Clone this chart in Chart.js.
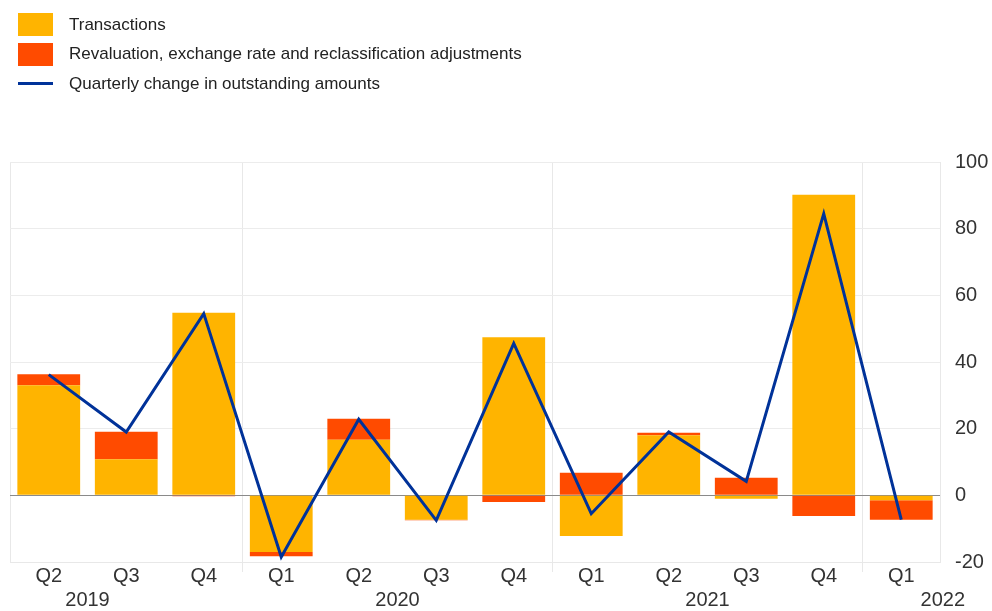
<!DOCTYPE html>
<html lang="en">
<head>
    <meta charset="UTF-8">
    <title>Transactions and revaluations</title>
    <script src="https://cdn.jsdelivr.net/npm/chart.js"></script>
    <style>
        body { margin: 0; background: #fff; font-family: "Liberation Sans", Arial, Helvetica, sans-serif; }
        .wrap { position: relative; width: 992px; height: 611px; }
        .legend { position: absolute; left: 18px; top: 10px; color: #222; font-size: 17px; }
        .legend .row { display: flex; align-items: center; height: 29.5px; }
        .legend .box { width: 35px; height: 23px; margin-right: 16px; }
        .legend .line { width: 35px; height: 3px; margin-right: 16px; }
        canvas { position: absolute; left: 0; top: 0; }
    </style>
</head>
<body>
    <div class="wrap">
        <canvas id="chart" width="992" height="611"></canvas>
        <div class="legend">
            <div class="row"><span class="box" style="background:#FFB400"></span>Transactions</div>
            <div class="row"><span class="box" style="background:#FF4B00"></span>Revaluation, exchange rate and reclassification adjustments</div>
            <div class="row"><span class="line" style="background:#003299"></span>Quarterly change in outstanding amounts</div>
        </div>
    </div>

    <script>
        // data
        const quarters = ['Q2', 'Q3', 'Q4', 'Q1', 'Q2', 'Q3', 'Q4', 'Q1', 'Q2', 'Q3', 'Q4', 'Q1'];
        const years = ['2019', '2020', '2021', '2022'];
        const yearQ2Index = [0, 4, 8, 12]; // index of Q2 of each year (may lie off the chart)
        const transactions = [33, 10.8, 54.8, -17, 16.7, -7.3, 47.4, -12.2, 18, -1, 90.2, -1.5];
        const revaluation = [3.3, 8.3, -0.3, -1.3, 6.3, -0.2, -2, 6.8, 0.8, 5.3, -6.2, -5.8];
        const quarterlyChange = [36.2, 19, 54.5, -18.5, 22.8, -7.5, 45.6, -5.5, 19, 4.2, 84.5, -7.3];
        const yTicks = [-20, 0, 20, 40, 60, 80, 100];
        const yearBoundaries = [3, 7, 11];

        const FONT = '"Liberation Sans", Arial, Helvetica, sans-serif';

        // draws the year labels centred on each year's middle
        const yearLabels = {
            id: 'yearLabels',
            afterDraw(chart) {
                const ctx = chart.ctx;
                const x = chart.scales.x;
                ctx.save();
                ctx.font = '20px ' + FONT;
                ctx.fillStyle = '#333';
                ctx.textAlign = 'center';
                ctx.textBaseline = 'middle';
                years.forEach((yr, i) => {
                    const i2 = yearQ2Index[i];
                    let cx = (x.getPixelForValue(i2) + x.getPixelForValue(i2 + 1)) / 2;
                    const w = ctx.measureText(yr).width;
                    cx = Math.min(cx, chart.width - 27 - w / 2);
                    ctx.fillText(yr, cx, 600);
                });
                ctx.restore();
            }
        };

        const config = {
            type: 'bar',
            data: {
                labels: quarters,
                datasets: [
                    {
                        type: 'line',
                        label: 'Quarterly change in outstanding amounts',
                        data: quarterlyChange,
                        borderColor: '#003299',
                        borderWidth: 3,
                        pointRadius: 0,
                        tension: 0,
                        stack: 'line',
                        order: 0
                    },
                    {
                        label: 'Transactions',
                        data: transactions,
                        backgroundColor: '#FFB400',
                        stack: 'bars',
                        order: 1
                    },
                    {
                        label: 'Revaluation, exchange rate and reclassification adjustments',
                        data: revaluation,
                        backgroundColor: '#FF4B00',
                        stack: 'bars',
                        order: 1
                    }
                ]
            },
            options: {
                responsive: false,
                animation: false,
                layout: { padding: { left: 10, top: 162, right: 0, bottom: 0 } },
                datasets: {
                    bar: { categoryPercentage: 1, barPercentage: 0.81 }
                },
                plugins: {
                    legend: { display: false },
                    tooltip: { enabled: false }
                },
                scales: {
                    x: {
                        stacked: true,
                        offset: true,
                        grid: {
                            offset: true,
                            drawTicks: true,
                            tickLength: 10,
                            color: ctx => (ctx.index === 0 || yearBoundaries.includes(ctx.index)) ? '#e8e8e8' : 'rgba(0,0,0,0)',
                            tickColor: ctx => yearBoundaries.includes(ctx.index) ? '#e8e8e8' : 'rgba(0,0,0,0)'
                        },
                        border: { display: true, color: '#e8e8e8' },
                        ticks: {
                            color: '#333',
                            font: { family: FONT, size: 20 },
                            padding: -8,
                            maxRotation: 0,
                            autoSkip: false
                        },
                        afterFit: s => { s.height = 49; }
                    },
                    y: {
                        position: 'right',
                        stacked: true,
                        min: -20,
                        max: 100,
                        afterBuildTicks: s => { s.ticks = yTicks.map(v => ({ value: v })); },
                        grid: {
                            drawTicks: false,
                            color: ctx => ctx.tick && ctx.tick.value === 0 ? '#8a8a8a' : '#ececec'
                        },
                        border: { display: true, color: '#e8e8e8' },
                        ticks: {
                            color: '#333',
                            font: { family: FONT, size: 20 },
                            padding: 15,
                            crossAlign: 'near'
                        },
                        afterFit: s => { s.width = 52; }
                    }
                }
            },
            plugins: [yearLabels]
        };

        window.onload = function() {
            const ctx = document.getElementById('chart').getContext('2d');
            new Chart(ctx, config);
        };
    </script>
</body>
</html>
